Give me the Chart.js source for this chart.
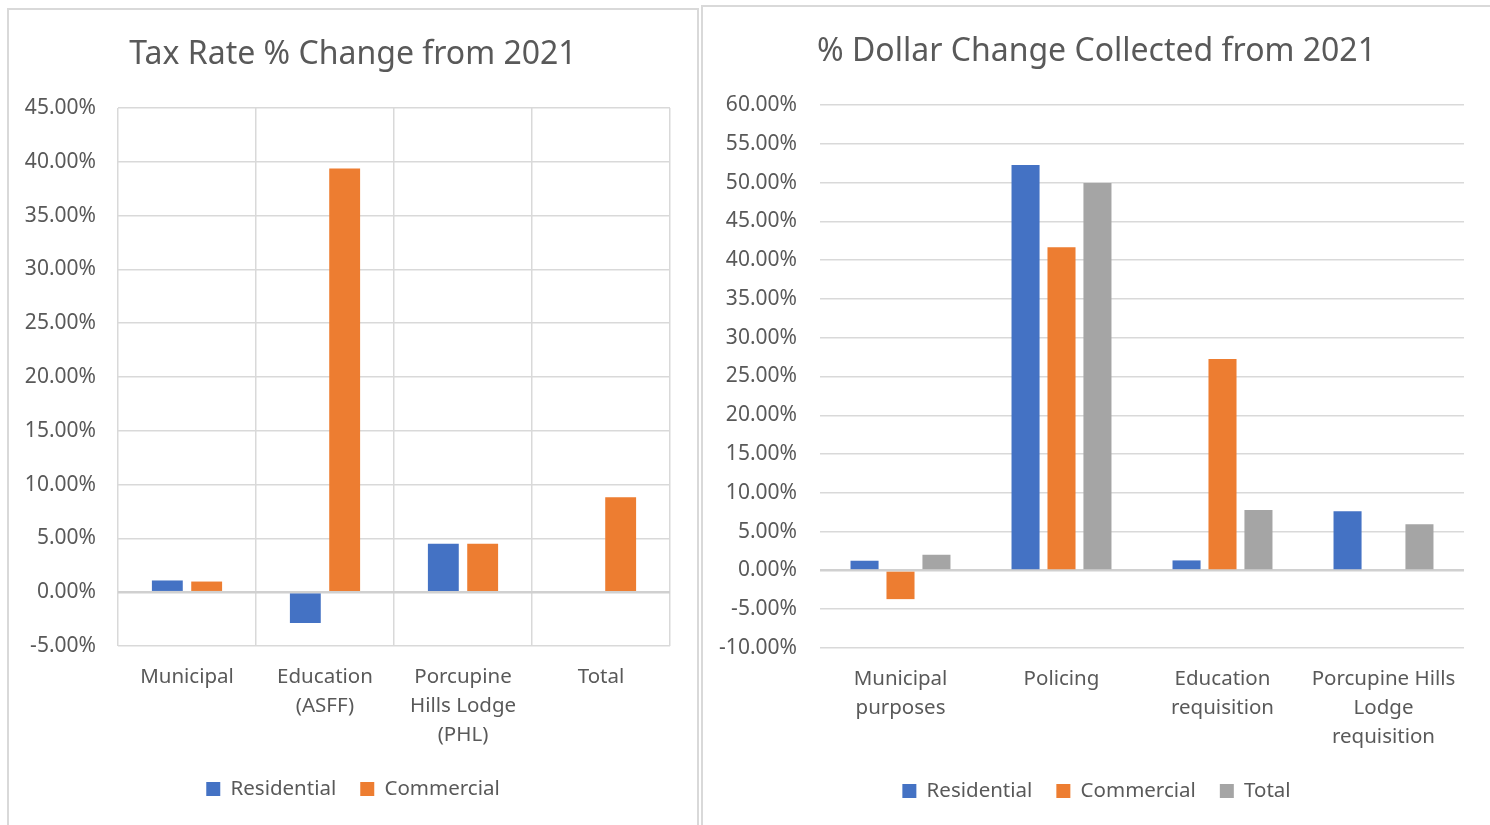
<!DOCTYPE html>
<html>
<head>
<meta charset="utf-8">
<title>Tax Rate and Dollar Change from 2021</title>
<script src="https://cdn.jsdelivr.net/npm/chart.js@4.4.0/dist/chart.umd.min.js"></script>
<style>
    body { margin: 0; background: #fff; width: 1490px; height: 825px; overflow: hidden; position: relative; }
    .panel { position: absolute; border: 2px solid #d9d9d9; box-sizing: border-box; }
    canvas { position: absolute; }
</style>
</head>
<body>
<div class="panel" style="left:7px; top:8px; width:692px; height:830px;"></div>
<div class="panel" style="left:701px; top:5px; width:800px; height:830px;"></div>
<canvas id="rateChart" width="688" height="815" style="left:9px; top:10px;"></canvas>
<canvas id="dollarChart" width="787" height="818" style="left:703px; top:7px;"></canvas>
<script>
    // Tax rate % change (left chart)
    const rateCategories = ['Municipal', ['Education', '(ASFF)'], ['Porcupine', 'Hills Lodge', '(PHL)'], 'Total'];
    const rateResidential = [1.09, -2.86, 4.5, null];
    const rateCommercial = [0.99, 39.38, 4.5, 8.82];

    // % dollar change collected (right chart)
    const dollarCategories = [['Municipal', 'purposes'], 'Policing', ['Education', 'requisition'], ['Porcupine Hills', 'Lodge', 'requisition']];
    const dollarResidential = [1.25, 52.28, 1.29, 7.62];
    const dollarCommercial = [-3.7, 41.65, 27.24, null];
    const dollarTotal = [2.02, 49.96, 7.79, 5.94];

    const BLUE = '#4472C4';
    const ORANGE = '#ED7D31';
    const GREY = '#A5A5A5';
    const TEXT = '#595959';
    const GRID = '#d9d9d9';
    const FONT = "'Noto Sans', sans-serif";

    Chart.defaults.font.family = FONT;
    Chart.defaults.color = TEXT;

    function buildChart(canvasId, cfg) {
        const ctx = document.getElementById(canvasId).getContext('2d');
        return new Chart(ctx, {
            type: 'bar',
            data: {
                labels: cfg.labels,
                datasets: cfg.datasets.map(d => ({
                    label: d.label,
                    data: d.data,
                    backgroundColor: d.color,
                    borderWidth: 0,
                    categoryPercentage: cfg.catPct,
                    barPercentage: cfg.barPct
                }))
            },
            options: {
                responsive: false,
                animation: false,
                layout: { padding: { top: 0, left: 0, right: 0, bottom: cfg.padBottom } },
                plugins: {
                    title: {
                        display: true,
                        text: cfg.title,
                        color: TEXT,
                        font: { size: 32, weight: 'normal', lineHeight: 1.2 },
                        padding: { top: 26, bottom: 33.6 }
                    },
                    legend: {
                        position: 'bottom',
                        labels: {
                            color: TEXT,
                            boxWidth: 14,
                            boxHeight: 14,
                            padding: 24,
                            font: { size: 20.5 }
                        }
                    },
                    tooltip: { enabled: false }
                },
                scales: {
                    x: {
                        grid: { display: cfg.vGrid, color: GRID, lineWidth: 1.5, drawTicks: false },
                        border: { display: false },
                        ticks: {
                            color: TEXT,
                            padding: 17,
                            maxRotation: 0,
                            minRotation: 0,
                            autoSkip: false,
                            font: { size: 20.5, lineHeight: 1.4 }
                        },
                        afterFit: function(scale) { scale.height = 108.75; }
                    },
                    y: {
                        min: cfg.min,
                        max: cfg.max,
                        grid: {
                            drawTicks: false,
                            color: c => c.tick && c.tick.value === 0 ? '#d0d0d0' : GRID,
                            lineWidth: c => c.tick && c.tick.value === 0 ? 2.5 : 1.5
                        },
                        border: { display: false },
                        ticks: {
                            stepSize: 5,
                            color: TEXT,
                            padding: cfg.tickPad,
                            font: { size: 21 },
                            callback: function(value) {
                                return value.toFixed(2) + '%';
                            }
                        },
                        afterFit: function(scale) { scale.width = cfg.yWidth; }
                    },
                    spacer: {
                        type: 'linear',
                        position: 'right',
                        grid: { display: false },
                        border: { display: false },
                        ticks: { display: false },
                        afterFit: function(scale) { scale.width = cfg.rightGap; }
                    }
                }
            }
        });
    }

    buildChart('rateChart', {
        title: 'Tax Rate % Change from 2021',
        labels: rateCategories,
        datasets: [
            { label: 'Residential', data: rateResidential, color: BLUE },
            { label: 'Commercial', data: rateCommercial, color: ORANGE }
        ],
        min: -5,
        max: 45,
        catPct: 0.57,
        barPct: 0.785,
        vGrid: true,
        yWidth: 109,
        rightGap: 27,
        tickPad: 22,
        padBottom: 15.75
    });

    buildChart('dollarChart', {
        title: '% Dollar Change Collected from 2021',
        labels: dollarCategories,
        datasets: [
            { label: 'Residential', data: dollarResidential, color: BLUE },
            { label: 'Commercial', data: dollarCommercial, color: ORANGE },
            { label: 'Total', data: dollarTotal, color: GREY }
        ],
        min: -10,
        max: 60,
        catPct: 0.67,
        barPct: 0.78,
        vGrid: false,
        yWidth: 117,
        rightGap: 26,
        tickPad: 23,
        padBottom: 13.75
    });
</script>
</body>
</html>
